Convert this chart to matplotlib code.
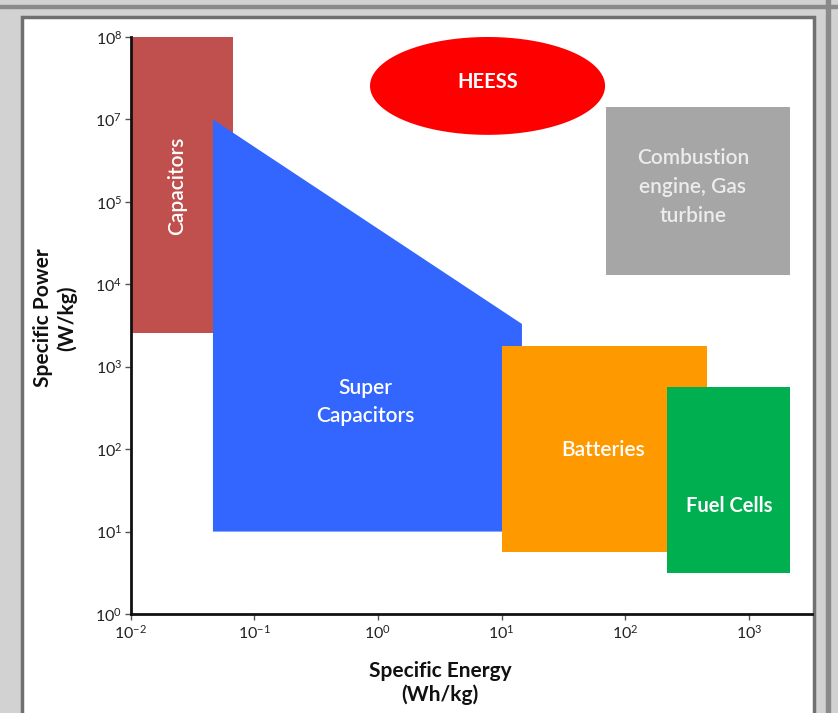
import numpy as np
import matplotlib
matplotlib.use("Agg")
import matplotlib.pyplot as plt
from matplotlib.patches import Rectangle

plt.rcParams["font.family"] = ["Lato", "DejaVu Sans"]
plt.rcParams["mathtext.fontset"] = "custom"
plt.rcParams["mathtext.rm"] = "Lato"
plt.rcParams["mathtext.it"] = "Lato:italic"
plt.rcParams["mathtext.bf"] = "Lato:bold"

# y axis runs in decade slots; the labels are as printed on the original (no 10^6)
y_ticks = [1e0, 1e1, 1e2, 1e3, 1e4, 1e5, 1e6, 1e7]
y_tick_labels = ["$10^{0}$", "$10^{1}$", "$10^{2}$", "$10^{3}$",
                 "$10^{4}$", "$10^{5}$", "$10^{7}$", "$10^{8}$"]
x_ticks = [1e-2, 1e-1, 1e0, 1e1, 1e2, 1e3]
x_tick_labels = ["$10^{-2}$", "$10^{-1}$", "$10^{0}$", "$10^{1}$", "$10^{2}$", "$10^{3}$"]

# rectangular regions: (x_min, x_max, y_min, y_max)
capacitors = (0.0100, 0.0675, 2570, 1.0e7)
batteries = (10.0, 457, 5.7, 1770)
fuel_cells = (218, 2140, 3.16, 562)
combustion = (69.5, 2140, 1.29e4, 1.43e6)

# super capacitor outline
super_cap_x = [0.0464, 14.6, 14.6, 0.0464]
super_cap_y = [1.0e6, 3300, 10, 10]

# HEESS ellipse bounds
heess = (0.863, 68.6, 6.5e5, 1.0e7)

fig = plt.figure(figsize=(8.38, 7.13), dpi=100)
fig.patch.set_facecolor("#d2d2d2")

# picture frame around the chart
fig.patches.append(Rectangle((0, 1 - 8 / 713), 1, 3 / 713, transform=fig.transFigure,
                             color="#8a8a8a", zorder=-5))
fig.patches.append(Rectangle((22 / 838, -0.01), (814 - 22) / 838, 1 - 17 / 713 + 0.01,
                             transform=fig.transFigure, facecolor="white",
                             edgecolor="#707070", lw=2.5, zorder=-5))
fig.patches.append(Rectangle((826 / 838, -0.01), 4 / 838, 1.02, transform=fig.transFigure,
                             color="#8a8a8a", zorder=-5))

ax = fig.add_axes([130.5 / 838, 1 - 614 / 713, (812 - 130.5) / 838, (614 - 37) / 713])
ax.set_zorder(2)
ax.set_facecolor("none")
ax.set_xscale("log")
ax.set_yscale("log")
ax.set_xlim(1e-2, 10 ** 3.509)
ax.set_ylim(1, 1e7)

def box(region, color, z):
    x0, x1, y0, y1 = region
    ax.fill([x0, x1, x1, x0], [y0, y0, y1, y1], color=color, lw=0, zorder=z)

box(capacitors, "#c0504d", 2)
ax.fill(super_cap_x, super_cap_y, color="#3366ff", lw=0, zorder=3)
box(batteries, "#ff9900", 4)
box(fuel_cells, "#00b050", 5)
box(combustion, "#a6a6a6", 2)

t = np.linspace(0, 2 * np.pi, 200)
lx0, lx1 = np.log10(heess[0]), np.log10(heess[1])
ly0, ly1 = np.log10(heess[2]), np.log10(heess[3])
ex = 10 ** ((lx0 + lx1) / 2 + (lx1 - lx0) / 2 * np.cos(t))
ey = 10 ** ((ly0 + ly1) / 2 + (ly1 - ly0) / 2 * np.sin(t))
ax.fill(ex, ey, color="#ff0000", lw=0, zorder=2, clip_on=False)

txt = dict(color="white", ha="center", va="center", fontsize=15,
           fontweight=600, zorder=6)
bold = {**txt, "fontsize": 14.5, "fontweight": "bold"}
ax.text(0.0238, 10 ** 5.19, "Capacitors", rotation=90, **txt)
ax.text(7.76, 10 ** 6.46, "HEESS", **bold)
ax.text(0.787, 10 ** 2.57, "Super\nCapacitors", linespacing=1.5, **txt)
ax.text(66, 10 ** 1.995, "Batteries", **txt)
ax.text(689, 10 ** 1.31, "Fuel Cells", **bold)
ax.text(352, 10 ** 5.18, "Combustion\nengine, Gas\nturbine", linespacing=1.55,
        **{**txt, "color": "#ececec"})

for side in ["top", "right"]:
    ax.spines[side].set_visible(False)
for side in ["left", "bottom"]:
    ax.spines[side].set_linewidth(2)
    ax.spines[side].set_color("#111111")
    ax.spines[side].set_zorder(7)

ax.set_xticks(x_ticks)
ax.set_xticklabels(x_tick_labels)
ax.set_yticks(y_ticks)
ax.set_yticklabels(y_tick_labels)
ax.minorticks_off()
ax.tick_params(axis="both", direction="out", length=4, width=1, color="#555555",
               labelsize=11.5, labelcolor="#222222")
ax.tick_params(axis="x", pad=3)
ax.tick_params(axis="y", pad=2)

fig.text(55 / 838, 1 - 318 / 713, "Specific Power\n(W/kg)", rotation=90, ha="center",
         va="center", fontsize=15, fontweight="bold", color="#111111", linespacing=1.25)
fig.text(440 / 838, 1 - 683 / 713, "Specific Energy\n(Wh/kg)", ha="center",
         va="center", fontsize=15, fontweight="bold", color="#111111", linespacing=1.25)

fig.savefig("out.png", dpi=100, facecolor=fig.get_facecolor())
